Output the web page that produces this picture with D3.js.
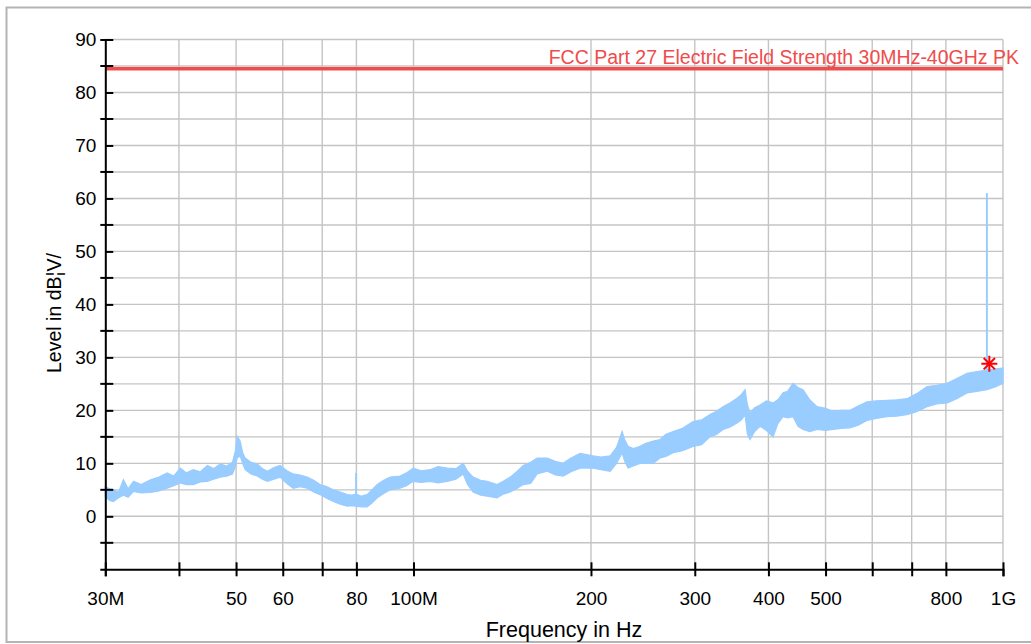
<!DOCTYPE html>
<html>
<head>
<meta charset="utf-8">
<script src="https://cdn.jsdelivr.net/npm/d3@7"></script>
<style>
  body { margin: 0; background: #fff; }
  svg { display: block; font-family: "Liberation Sans", Arial, sans-serif; }
</style>
</head>
<body>
<svg id="emi-svg" width="1031" height="644"></svg>
<script>
const freqMHz = [30.0, 30.5, 30.95, 31.6, 32.2, 32.8, 33.5, 34.5, 35.8, 37.0, 38.2, 39.2, 40.2, 41.2, 42.3, 43.5, 44.7, 45.8, 47.0, 48.2, 49.3, 49.9, 50.2, 50.8, 51.3, 51.8, 53.0, 54.3, 55.4, 56.5, 58.0, 59.4, 61.0, 62.5, 64.2, 66.0, 67.7, 69.4, 71.2, 73.1, 75.1, 77.2, 78.6, 79.9, 81.6, 83.4, 85.0, 86.8, 89.0, 91.3, 94.9, 97.3, 99.9, 103.0, 106.7, 110.0, 114.1, 118.0, 121.4, 123.5, 126.2, 130.0, 133.3, 138.6, 142.0, 145.9, 150.0, 153.5, 158.0, 162.1, 168.6, 174.0, 179.4, 185.0, 191.7, 201.7, 208.0, 215.6, 221.0, 225.9, 228.0, 231.2, 236.0, 242.3, 248.0, 255.0, 262.0, 268.0, 275.7, 286.0, 298.0, 308.0, 318.4, 326.0, 335.0, 344.0, 353.9, 360.0, 365.1, 368.5, 372.3, 379.0, 387.1, 397.0, 407.3, 415.0, 423.5, 431.0, 440.4, 449.0, 458.0, 470.0, 483.7, 500.0, 514.8, 532.0, 550.1, 568.0, 587.9, 610.0, 635.8, 660.0, 687.3, 715.0, 743.2, 772.0, 803.6, 835.0, 868.9, 903.0, 939.4, 970.0, 1000.0];
const bandLow = [3.8, 3.0, 2.8, 3.5, 4.0, 3.6, 4.7, 4.4, 4.5, 4.8, 5.3, 5.8, 6.3, 6.0, 6.0, 6.5, 6.6, 7.0, 7.4, 7.6, 8.0, 9.5, 11.0, 11.4, 10.0, 8.8, 8.0, 7.6, 7.0, 6.6, 7.0, 7.4, 6.2, 5.3, 5.6, 5.3, 4.6, 4.1, 3.4, 2.8, 2.3, 1.9, 2.0, 1.9, 1.8, 1.8, 2.5, 3.5, 4.3, 5.0, 5.3, 5.8, 6.6, 6.4, 6.6, 6.3, 6.6, 7.0, 8.0, 6.0, 4.6, 4.0, 3.8, 3.5, 4.2, 4.6, 5.3, 6.0, 6.2, 8.0, 8.5, 7.8, 7.6, 8.4, 9.1, 9.1, 8.8, 8.5, 10.0, 12.0, 10.5, 9.1, 9.5, 10.0, 10.0, 10.0, 11.0, 11.3, 12.0, 12.4, 13.2, 13.5, 15.0, 15.4, 16.4, 16.8, 17.6, 18.2, 19.2, 15.5, 14.5, 16.0, 17.0, 16.2, 15.0, 17.5, 18.8, 18.6, 18.8, 17.0, 16.4, 16.0, 16.4, 16.2, 16.4, 16.6, 16.7, 17.2, 18.1, 18.5, 18.8, 18.9, 19.2, 19.8, 20.7, 21.2, 21.4, 22.2, 23.3, 23.6, 23.9, 24.4, 25.1];
const bandHigh = [5.6, 5.2, 5.0, 4.6, 6.9, 5.2, 6.6, 6.0, 6.9, 7.4, 8.2, 7.6, 9.1, 8.2, 8.8, 8.4, 9.6, 9.0, 9.9, 9.5, 10.2, 12.5, 15.1, 14.2, 12.0, 11.0, 10.2, 9.9, 9.0, 8.5, 9.2, 9.6, 8.6, 8.0, 7.8, 7.4, 6.8, 6.0, 5.6, 5.0, 4.6, 4.1, 4.0, 4.2, 3.8, 4.1, 5.0, 6.0, 6.8, 7.4, 7.6, 8.2, 9.1, 8.6, 8.8, 9.4, 9.1, 9.0, 10.0, 8.5, 7.4, 6.8, 6.6, 6.0, 6.6, 7.4, 8.5, 9.6, 10.2, 11.0, 11.0, 10.4, 10.0, 11.0, 11.9, 11.4, 11.2, 11.4, 13.0, 16.0, 14.5, 13.2, 12.8, 13.2, 13.8, 14.2, 14.5, 15.5, 16.0, 16.6, 17.9, 18.2, 19.2, 19.8, 20.7, 21.4, 22.3, 23.0, 23.9, 21.0, 19.5, 20.5, 21.0, 21.8, 21.4, 22.0, 23.3, 23.6, 25.1, 24.3, 23.9, 22.0, 20.7, 20.4, 19.8, 20.0, 20.0, 20.8, 21.6, 21.8, 21.9, 22.0, 22.2, 23.2, 24.5, 24.7, 25.1, 26.0, 27.0, 27.3, 27.6, 27.8, 28.0];

// narrow single-frequency spikes
const spikeFreq = [79.9, 939.0];
const spikeBase = [3.0, 26.0];
const spikeTop = [8.2, 61.0];

// limit line and peak marker
const limitLevel = 84.5;
const limitLabel = "FCC Part 27 Electric Field Strength 30MHz-40GHz PK";
const markerFreq = [948.0];
const markerLevel = [28.8];

// axes
const xTickValues = [30, 40, 50, 60, 70, 80, 100, 200, 300, 400, 500, 600, 700, 800, 1000];
const xTickLabels = ["30M", "", "50", "60", "", "80", "100M", "200", "300", "400", "500", "", "", "800", "1G"];
const yTickValues = [0, 10, 20, 30, 40, 50, 60, 70, 80, 90];
const yMinorTicks = [-5, 5, 15, 25, 35, 45, 55, 65, 75, 85];
const yGridValues = [-5, 0, 5, 10, 15, 20, 25, 30, 35, 40, 45, 50, 55, 60, 65, 70, 75, 80, 85, 90];

const plot = { left: 105.3, right: 1003, top: 39.5, bottom: 569.3 };
const traceColor = "#99ccff";
const limitColor = "#f04c4c";

const svg = d3.select("#emi-svg");

// outer frame
svg.append("rect")
  .attr("x", 6.5).attr("y", 7.5)
  .attr("width", 1034).attr("height", 634.5)
  .attr("fill", "none")
  .attr("stroke", "#b4b4b4")
  .attr("stroke-width", 2);

const x = d3.scaleLog()
  .domain([30, 1000])
  .range([plot.left, plot.right]);

const y = d3.scaleLinear()
  .domain([-10, 90])
  .range([plot.bottom, plot.top]);

// grid
const grid = svg.append("g").attr("stroke", "#c4c4c4").attr("stroke-width", 1.4);
grid.selectAll(".vgrid")
  .data(xTickValues.slice(1))
  .join("line")
  .attr("x1", d => x(d)).attr("x2", d => x(d))
  .attr("y1", plot.top).attr("y2", plot.bottom);
grid.selectAll(".hgrid")
  .data(yGridValues)
  .join("line")
  .attr("x1", plot.left).attr("x2", plot.right)
  .attr("y1", d => y(d)).attr("y2", d => y(d));

// trace band
const band = d3.area()
  .x((d, i) => x(freqMHz[i]))
  .y0((d, i) => y(bandLow[i]))
  .y1((d, i) => y(bandHigh[i]));

svg.append("path")
  .datum(freqMHz)
  .attr("d", band)
  .attr("fill", traceColor)
  .attr("stroke", traceColor)
  .attr("stroke-width", 1.2)
  .attr("stroke-linejoin", "miter");

svg.selectAll(".spike")
  .data(spikeFreq)
  .join("line")
  .attr("x1", d => x(d)).attr("x2", d => x(d))
  .attr("y1", (d, i) => y(spikeBase[i]))
  .attr("y2", (d, i) => y(spikeTop[i]))
  .attr("stroke", traceColor)
  .attr("stroke-width", 2);

// limit line
svg.append("line")
  .attr("x1", plot.left).attr("x2", plot.right)
  .attr("y1", y(limitLevel)).attr("y2", y(limitLevel))
  .attr("stroke", limitColor)
  .attr("stroke-width", 3.5);

svg.append("text")
  .attr("x", 1019)
  .attr("y", y(limitLevel) - 4.5)
  .attr("text-anchor", "end")
  .attr("fill", limitColor)
  .style("font-size", "19.5px")
  .text(limitLabel);

// axes
const xAxis = svg.append("g")
  .attr("transform", `translate(0,${plot.bottom})`)
  .call(d3.axisBottom(x)
    .tickValues(xTickValues)
    .tickFormat((d, i) => xTickLabels[i])
    .tickSizeOuter(0)
    .tickSize(7)
    .tickPadding(15));
xAxis.selectAll(".tick line").attr("y1", -7).attr("stroke-width", 2);
xAxis.select(".domain").attr("stroke-width", 2);
xAxis.selectAll("text")
  .attr("fill", "#000")
  .style("font-size", "19px")
  .style("font-family", "Liberation Sans, Arial, sans-serif");

const yAxis = svg.append("g")
  .attr("transform", `translate(${plot.left},0)`)
  .call(d3.axisLeft(y)
    .tickValues(yTickValues)
    .tickSizeOuter(0)
    .tickSize(5)
    .tickPadding(4));
yAxis.selectAll(".tick line").attr("x2", 8).attr("stroke-width", 2);
yAxis.select(".domain").attr("stroke-width", 2);
yAxis.selectAll("text")
  .attr("fill", "#000")
  .style("font-size", "19px")
  .style("font-family", "Liberation Sans, Arial, sans-serif");

yAxis.selectAll(".minor")
  .data(yMinorTicks)
  .join("line")
  .attr("x1", -5).attr("x2", 8)
  .attr("y1", d => y(d)).attr("y2", d => y(d))
  .attr("stroke", "#000")
  .attr("stroke-width", 2);

// peak marker (8-arm asterisk)
const star = svg.selectAll(".marker")
  .data(markerFreq)
  .join("g")
  .attr("transform", (d, i) => `translate(${x(d)},${y(markerLevel[i])})`);
[0, 45, 90, 135].forEach(a => {
  star.append("line")
    .attr("x1", -8).attr("x2", 8)
    .attr("y1", 0).attr("y2", 0)
    .attr("transform", `rotate(${a})`)
    .attr("stroke", "#ff0000")
    .attr("stroke-width", 2);
});

// axis titles
svg.append("text")
  .attr("x", 564)
  .attr("y", 636.5)
  .attr("text-anchor", "middle")
  .style("font-size", "21.5px")
  .text("Frequency in Hz");

svg.append("text")
  .attr("transform", `translate(61,313) rotate(-90)`)
  .attr("text-anchor", "middle")
  .style("font-size", "19.5px")
  .text("Level in dB¦V/");
</script>
</body>
</html>
